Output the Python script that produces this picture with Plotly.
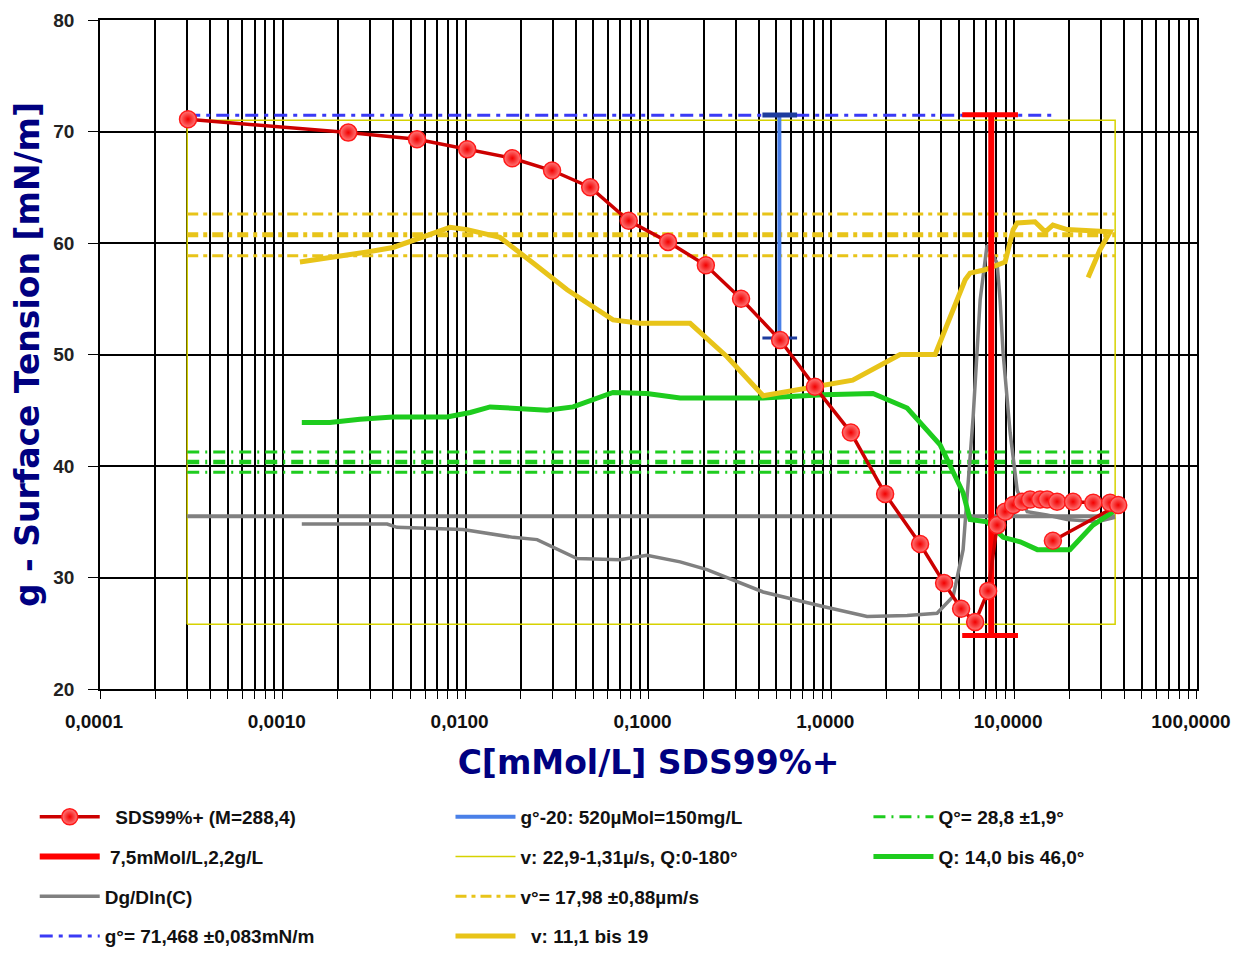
import plotly.graph_objects as go

# ---------------- data ----------------
sds_x = [0.000303, 0.00228, 0.00542, 0.0102, 0.0180, 0.0297, 0.048, 0.078, 0.128, 0.206,
         0.321, 0.525, 0.814, 1.28, 1.97, 3.06, 4.14, 5.13, 6.12, 7.21, 8.08, 8.93, 9.88,
         11.07, 12.24, 13.88, 15.15, 17.18, 21.0, 27.1, 33.5, 37.1, 16.3]
sds_y = [71.1, 69.9, 69.3, 68.4, 67.6, 66.5, 65.0, 62.0, 60.1, 58.0,
         55.0, 51.3, 47.1, 43.0, 37.5, 33.0, 29.5, 27.2, 26.0, 28.8, 34.7, 35.9, 36.5,
         36.8, 37.0, 37.0, 37.0, 36.8, 36.8, 36.7, 36.7, 36.5, 33.3]

cmc_x = 7.5
cmc_y = [71.5, 24.8]
cmc_cap_x = [5.2, 10.5]

g20_x = 0.52
g20_y = [71.47, 51.47]
g20_cap_x = [0.42, 0.65]

g0 = 71.468
g0_x = [0.0003, 17.0]

dg_x = [0.00127, 0.00372, 0.00421, 0.00968, 0.0182, 0.0246, 0.0407, 0.070, 0.098, 0.149,
        0.209, 0.424, 0.902, 1.57, 2.60, 3.79, 4.64, 5.26, 5.97, 6.52, 7.11, 8.07, 8.38,
        8.71, 9.51, 10.4, 11.8, 15.1, 19.5, 28.5, 35.7]
dg_y = [34.8, 34.8, 34.5, 34.3, 33.6, 33.4, 31.7, 31.6, 32.0, 31.4,
        30.7, 28.7, 27.4, 26.5, 26.6, 26.8, 28.3, 32.5, 44.4, 54.9, 59.8, 58.2, 54.9,
        50.1, 43.0, 37.8, 35.9, 35.6, 35.2, 35.0, 35.4]
dg_ref = 35.5
dg_ref_x = [0.0003, 35.7]

rect_x = [0.0003, 35.7]
rect_y = [25.8, 71.0]

v0_lines = [62.6, 60.75, 58.85]
q0_lines = [41.25, 40.35, 39.45]
ref_x = [0.0003, 35.7]

v_x = [0.00124, 0.00188, 0.00289, 0.00401, 0.00542, 0.00822, 0.0102, 0.0154, 0.0234, 0.0359,
       0.064, 0.090, 0.169, 0.269, 0.424, 1.31, 2.38, 3.70, 5.40, 5.74, 6.93, 8.93, 9.88,
       10.4, 13.0, 14.8, 16.3, 19.5, 33.5, 29.5, 25.4]
v_y = [58.3, 58.7, 59.2, 59.6, 60.4, 61.4, 61.2, 60.5, 58.2, 55.8,
       53.1, 52.8, 52.8, 49.8, 46.3, 47.7, 50.0, 50.0, 56.7, 57.3, 57.6, 58.3, 61.2,
       61.8, 61.9, 61.0, 61.6, 61.2, 61.0, 59.4, 56.9]

q_x = [0.00127, 0.00181, 0.00264, 0.00401, 0.00791, 0.0106, 0.0136, 0.0182, 0.0279, 0.0387,
       0.064, 0.098, 0.149, 0.424, 0.902, 1.69, 2.60, 3.94, 5.26, 5.74, 7.11, 8.71, 10.8,
       13.4, 20.2, 27.0, 34.8]
q_y = [43.9, 43.9, 44.2, 44.4, 44.4, 44.8, 45.3, 45.2, 45.0, 45.3,
       46.6, 46.5, 46.1, 46.1, 46.4, 46.5, 45.2, 41.9, 37.6, 35.2, 35.0, 33.6, 33.2,
       32.5, 32.5, 34.7, 35.9]

x_ticks_major = [0.0001, 0.001, 0.01, 0.1, 1, 10, 100]
x_tick_labels = ["0,0001", "0,0010", "0,0100", "0,1000", "1,0000", "10,0000", "100,0000"]
y_ticks = [20, 30, 40, 50, 60, 70, 80]

# ---------------- colours ----------------
RED_D = "#CC0000"
RED = "#FF0000"
GRAY = "#808080"
BLUE = "#3A3AF5"
BLUE_BAR = "#4A80E8"
BLUE_CAP = "#1E3C9E"
YEL_THIN = "#D6D200"
YEL = "#E8C419"
GREEN = "#1ECC1E"

fig = go.Figure()

def add(x, y, name=None, legend="legend", rank=1, color="black", width=2, dash="solid",
        show=True, mode="lines", marker=None, group=None):
    fig.add_trace(go.Scatter(
        x=x, y=y, mode=mode, name=name, legend=legend, legendrank=rank,
        showlegend=show and name is not None,
        legendgroup=group or name,
        line=dict(color=color, width=width, dash=dash),
        marker=marker, hoverinfo="skip"))

# yellow thin rectangle
rx = [rect_x[0], rect_x[1], rect_x[1], rect_x[0], rect_x[0]]
ry = [rect_y[0], rect_y[0], rect_y[1], rect_y[1], rect_y[0]]
add(rx, ry, "v: 22,9-1,31µ/s, Q:0-180°", "legend2", 2, YEL_THIN, 1.5)

# v° dash-dot lines
for i, yy in enumerate(v0_lines):
    add(ref_x, [yy, yy], "v°= 17,98 ±0,88µm/s" if i == 0 else None, "legend2", 3, YEL,
        5 if i == 1 else 3, "11px,5px,4px,5px", group="v0")

# Q° dash-dot lines
for i, yy in enumerate(q0_lines):
    add(ref_x, [yy, yy], "Q°= 28,8 ±1,9°" if i == 0 else None, "legend3", 1, GREEN,
        4.5 if i == 1 else 3, "12px,6px,2px,6px", group="q0")

# gray
add(dg_ref_x, [dg_ref, dg_ref], None, "legend", 3, GRAY, 4, group="dg")
add(dg_x, dg_y, "Dg/Dln(C)", "legend", 3, GRAY, 3.5, group="dg")

# green Q
add(q_x, q_y, "Q: 14,0 bis 46,0°", "legend3", 2, GREEN, 5)

# yellow thick
add(v_x, v_y, "  v: 11,1 bis 19", "legend2", 4, YEL, 5)

# g° dash-dot
add(g0_x, [g0, g0], "g°= 71,468 ±0,083mN/m", "legend", 4, BLUE, 3, "13px,6px,4px,6px")

# g°-20 bar
add([g20_x, g20_x], g20_y, "g°-20: 520µMol=150mg/L", "legend2", 1, BLUE_BAR, 4, group="g20")
add(g20_cap_x, [g20_y[0], g20_y[0]], None, "legend2", 1, BLUE_CAP, 5, group="g20")
add(g20_cap_x, [g20_y[1], g20_y[1]], None, "legend2", 1, BLUE_CAP, 3, group="g20")

# cmc bar
add([cmc_x, cmc_x], cmc_y, " 7,5mMol/L,2,2g/L", "legend", 2, RED, 6, group="cmc")
add(cmc_cap_x, [cmc_y[0], cmc_y[0]], None, "legend", 2, RED, 5, group="cmc")
add(cmc_cap_x, [cmc_y[1], cmc_y[1]], None, "legend", 2, RED, 5, group="cmc")

# SDS data
add(sds_x, sds_y, "  SDS99%+ (M=288,4)", "legend", 1, RED_D, 3.5, mode="lines+markers",
    marker=dict(size=17, color="#FF7A7A", symbol="circle",
                gradient=dict(type="radial", color="#F20000"),
                line=dict(color="#FF1A1A", width=1.5)))

# ---------------- axes ----------------
minor_vals = []
minor_text = []
for d in range(-4, 2):
    for m in range(1, 10):
        minor_vals.append(m * 10 ** d)
        minor_text.append(x_tick_labels[d + 4] if m == 1 else "")
minor_vals.append(100)
minor_text.append(x_tick_labels[-1])

fig.update_xaxes(
    type="log", range=[-4, 2.0004], tickvals=minor_vals, ticktext=minor_text,
    showgrid=True, gridcolor="black", gridwidth=1.5,
    showline=True, linecolor="black", linewidth=1.5, mirror=True,
    ticks="outside", ticklen=8, tickcolor="black", tickwidth=1.2,
    ticklabelstandoff=6, ticklabelshift=-6, automargin=False, ticklabeloverflow="allow",
    tickfont=dict(family="Liberation Sans", size=19, color="#111111", weight="bold"),
    title=dict(text="C[mMol/L] SDS99%+", standoff=20,
               font=dict(family="DejaVu Sans", size=33, color="#000080", weight="bold")),
    zeroline=False)
fig.update_yaxes(
    range=[20, 80], tickvals=y_ticks, ticktext=[str(v) for v in y_ticks],
    showgrid=True, gridcolor="black", gridwidth=1.5,
    showline=True, linecolor="black", linewidth=1.5, mirror=True,
    ticks="outside", ticklen=10, tickcolor="black", tickwidth=1.2,
    ticklabelstandoff=10, automargin=False,
    tickfont=dict(family="Liberation Sans", size=19, color="#222222", weight="bold"),
    title=dict(text="g - Surface Tension [mN/m]", standoff=14,
               font=dict(family="DejaVu Sans", size=33, color="#000080", weight="bold")),
    zeroline=False)

leg_font = dict(family="Liberation Sans", size=19, color="#111111", weight="bold")
common = dict(bgcolor="rgba(0,0,0,0)", font=leg_font, tracegroupgap=12, itemwidth=60,
              yref="container", yanchor="top", xanchor="left", y=0.1632,
              orientation="v", traceorder="grouped")
fig.update_layout(
    width=1224, height=944,
    margin=dict(l=92, r=35, t=12, b=263),
    plot_bgcolor="white", paper_bgcolor="white",
    legend=dict(x=-0.0595, **common),
    legend2=dict(x=0.3195, **common),
    legend3=dict(x=0.7005, **common),
)

fig.write_html("out.html")
